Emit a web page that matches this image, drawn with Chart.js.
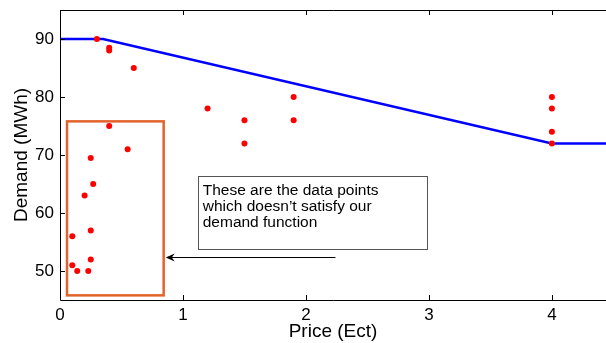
<!DOCTYPE html>
<html>
<head>
<meta charset="utf-8">
<script src="https://cdn.jsdelivr.net/npm/chart.js@4"></script>
<style>
  html, body { margin: 0; padding: 0; background: #fff; }
  #wrap { width: 606px; height: 343px; }
</style>
</head>
<body>
<div id="wrap"><canvas id="c" width="606" height="343"></canvas></div>
<script>
// observed demand vs price
var priceObs = [0.30, 0.40, 0.40, 0.60, 0.40, 0.55, 0.25, 0.27, 0.20, 0.25, 0.10, 0.25, 0.10, 0.14, 0.23,
                1.20, 1.50, 1.50, 1.90, 1.90, 4.0, 4.0, 4.0, 4.0];
var demandObs = [90, 88.5, 88, 85, 75, 71, 69.5, 65, 63, 57, 56, 52, 51, 50, 50,
                 78, 76, 72, 80, 76, 80, 78, 74, 72];

// demand function
var priceFn = [0, 0.35, 4, 4.44];
var demandFn = [90, 90, 72, 72];

var xTicks = [0, 1, 2, 3, 4];
var yTicks = [50, 60, 70, 80, 90];

var boxLines = ["These are the data points", "which doesn\u2019t satisfy our", "demand function"];

var FONT = "'Liberation Sans', Arial, Helvetica, sans-serif";

function pts(xs, ys) {
    return xs.map((x, i) => ({ x: x, y: ys[i] }));
}

// layout leaves a few px on the right, stretch x scale to the canvas edge
const fullRight = {
    id: 'fullRight',
    afterLayout(chart) {
        const x = chart.scales.x;
        chart.chartArea.right = chart.width;
        chart.chartArea.width = chart.width - chart.chartArea.left;
        x.right = chart.width;
        x.width = x.right - x.left;
        x.configure();
    }
};

// matlab style frame, inward ticks, and the annotations
const decor = {
    id: 'decor',
    afterDatasetsDraw(chart) {
        const ctx = chart.ctx, a = chart.chartArea;
        const sx = chart.scales.x, sy = chart.scales.y;
        ctx.save();
        ctx.strokeStyle = '#000';
        ctx.lineWidth = 1;
        ctx.beginPath();
        ctx.moveTo(a.left + 0.5, a.top + 0.5);
        ctx.lineTo(a.left + 0.5, a.bottom + 0.5);
        ctx.lineTo(a.right, a.bottom + 0.5);
        ctx.moveTo(a.left + 0.5, a.top + 0.5);
        ctx.lineTo(a.right, a.top + 0.5);
        xTicks.forEach(v => {
            const px = Math.round(sx.getPixelForValue(v)) + 0.5;
            ctx.moveTo(px, a.bottom); ctx.lineTo(px, a.bottom - 5);
            ctx.moveTo(px, a.top); ctx.lineTo(px, a.top + 5);
        });
        yTicks.forEach(v => {
            const py = Math.round(sy.getPixelForValue(v)) + 0.5;
            ctx.moveTo(a.left, py); ctx.lineTo(a.left + 5, py);
        });
        ctx.stroke();

        // orange box round the outliers
        ctx.strokeStyle = '#e2632b';
        ctx.lineWidth = 2.5;
        const rx0 = sx.getPixelForValue(0.057), rx1 = sx.getPixelForValue(0.843);
        const ry0 = sy.getPixelForValue(75.8), ry1 = sy.getPixelForValue(45.8);
        ctx.strokeRect(rx0, ry0, rx1 - rx0, ry1 - ry0);

        // text box
        const bx0 = sx.getPixelForValue(1.12), bx1 = sx.getPixelForValue(2.98);
        const by0 = sy.getPixelForValue(66.4), by1 = sy.getPixelForValue(53.8);
        ctx.fillStyle = '#fff';
        ctx.fillRect(bx0, by0, bx1 - bx0, by1 - by0);
        ctx.strokeStyle = '#555';
        ctx.lineWidth = 1;
        ctx.strokeRect(Math.round(bx0) + 0.5, Math.round(by0) + 0.5, Math.round(bx1 - bx0), Math.round(by1 - by0));
        ctx.fillStyle = '#000';
        ctx.font = '15.5px ' + FONT;
        ctx.textBaseline = 'alphabetic';
        ctx.textAlign = 'left';
        boxLines.forEach((t, i) => ctx.fillText(t, bx0 + 5, by0 + 19 + i * 16));

        // arrow
        const ax0 = sx.getPixelForValue(2.24), ax1 = sx.getPixelForValue(0.86);
        const ay = Math.round(sy.getPixelForValue(52.4)) + 0.5;
        ctx.strokeStyle = '#000';
        ctx.lineWidth = 1.2;
        ctx.beginPath();
        ctx.moveTo(ax0, ay); ctx.lineTo(ax1 + 4, ay);
        ctx.stroke();
        ctx.beginPath();
        ctx.moveTo(ax1, ay);
        ctx.lineTo(ax1 + 9, ay - 4);
        ctx.lineTo(ax1 + 6, ay);
        ctx.lineTo(ax1 + 9, ay + 4);
        ctx.closePath();
        ctx.fillStyle = '#000';
        ctx.fill();
        ctx.restore();
    }
};

new Chart(document.getElementById('c'), {
    type: 'scatter',
    data: {
        datasets: [{
            type: 'line',
            data: pts(priceFn, demandFn),
            borderColor: '#0000ff',
            borderWidth: 2.5,
            pointRadius: 0,
            tension: 0,
            order: 2
        }, {
            data: pts(priceObs, demandObs),
            backgroundColor: '#ff0000',
            borderColor: '#ff0000',
            pointRadius: 3,
            borderWidth: 0,
            order: 1
        }]
    },
    options: {
        responsive: false,
        animation: false,
        devicePixelRatio: 1,
        layout: { padding: { top: 10, right: 0, left: 0, bottom: 0 } },
        plugins: { legend: { display: false }, tooltip: { enabled: false } },
        scales: {
            x: {
                type: 'linear',
                min: 0, max: 4.44,
                afterBuildTicks: s => { s.ticks = xTicks.map(v => ({ value: v })); },
                afterFit: s => { s.height = 43; s.paddingLeft = 0; s.paddingRight = 0; },
                grid: { display: false, drawTicks: false },
                border: { display: false },
                ticks: { color: '#000', font: { family: FONT, size: 17 }, padding: 5, maxRotation: 0 },
                title: { display: true, text: 'Price (Ect)', color: '#000', font: { family: FONT, size: 19 }, padding: { top: 0, bottom: 0 } }
            },
            y: {
                min: 45, max: 95,
                afterBuildTicks: s => { s.ticks = yTicks.map(v => ({ value: v })); },
                afterFit: s => { s.width = 60; s.paddingTop = 0; s.paddingBottom = 0; },
                grid: { display: false, drawTicks: false },
                border: { display: false },
                ticks: { color: '#000', font: { family: FONT, size: 17 }, padding: 6 },
                title: { display: true, text: 'Demand (MWh)', color: '#000', font: { family: FONT, size: 19 }, padding: { top: 10, bottom: 0 } }
            }
        }
    },
    plugins: [fullRight, decor]
});
</script>
</body>
</html>
